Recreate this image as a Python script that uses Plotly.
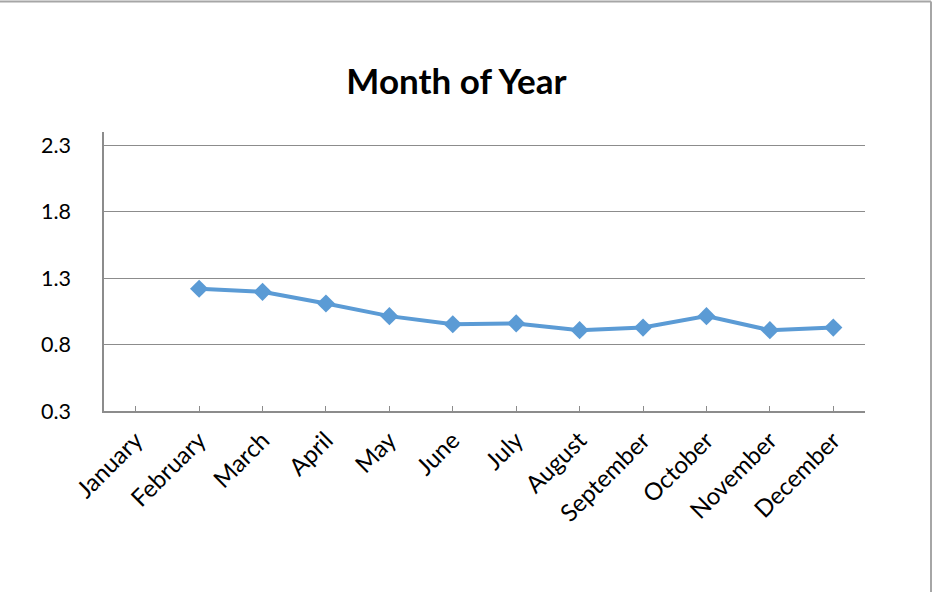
import plotly.graph_objects as go

months = ["January", "February", "March", "April", "May", "June", "July",
          "August", "September", "October", "November", "December"]
values = [None, 1.22, 1.197, 1.109, 1.014, 0.953, 0.959, 0.908, 0.928, 1.014, 0.908, 0.928]
y_ticks = [0.3, 0.8, 1.3, 1.8, 2.3]

x_idx = list(range(len(months)))

fig = go.Figure()
fig.add_trace(go.Scatter(
    x=x_idx, y=values, mode="lines+markers",
    line=dict(color="#5B9BD5", width=4),
    marker=dict(symbol="diamond", size=14, color="#5B9BD5"),
    showlegend=False, hoverinfo="x+y"
))

W, H = 934, 592
L, T = 104, 132
R = W - 865
B = H - 411
pw, ph = W - L - R, H - T - B

def px_x(X):
    return (X - L) / pw

def px_y(Y):
    return (H - B - Y) / ph

grid = "#8c8c8c"
fig.update_layout(
    width=W, height=H,
    margin=dict(l=L, r=R, t=T, b=B),
    paper_bgcolor="white", plot_bgcolor="white",
    font=dict(family="Lato", size=21.5, color="black"),
    title=dict(text="<b>Month of Year</b>", font=dict(family="Lato", size=35, color="black"),
               x=456.5 / W, xanchor="center", y=1 - 82 / H, yanchor="middle",
               xref="container", yref="container"),
    xaxis=dict(
        range=[-0.5, 11.5],
        tickvals=x_idx + [11.5], ticktext=months + [""],
        tickangle=-45, ticks="inside", ticklen=5, tickcolor=grid, tickwidth=1,
        tickfont=dict(size=24),
        showline=True, linecolor=grid, linewidth=1.5,
        showgrid=False, zeroline=False, ticklabelstandoff=4,
    ),
    yaxis=dict(
        range=[0.3, 2.4], tickvals=y_ticks, ticktext=[f"{v:.1f}" for v in y_ticks],
        showgrid=True, gridcolor=grid, gridwidth=1,
        showline=True, linecolor=grid, linewidth=1.5,
        ticks="", zeroline=False, ticklabelstandoff=27,
    ),
    shapes=[
        dict(type="line", xref="paper", yref="paper",
             x0=px_x(0), x1=px_x(931), y0=px_y(1.5), y1=px_y(1.5),
             line=dict(color="#a6a6a6", width=2)),
        dict(type="line", xref="paper", yref="paper",
             x0=px_x(931), x1=px_x(931), y0=px_y(1.5), y1=px_y(592),
             line=dict(color="#a6a6a6", width=2)),
    ],
)

fig.write_html("out.html", config={"displayModeBar": False},
               post_script="document.body.style.margin='0';")
